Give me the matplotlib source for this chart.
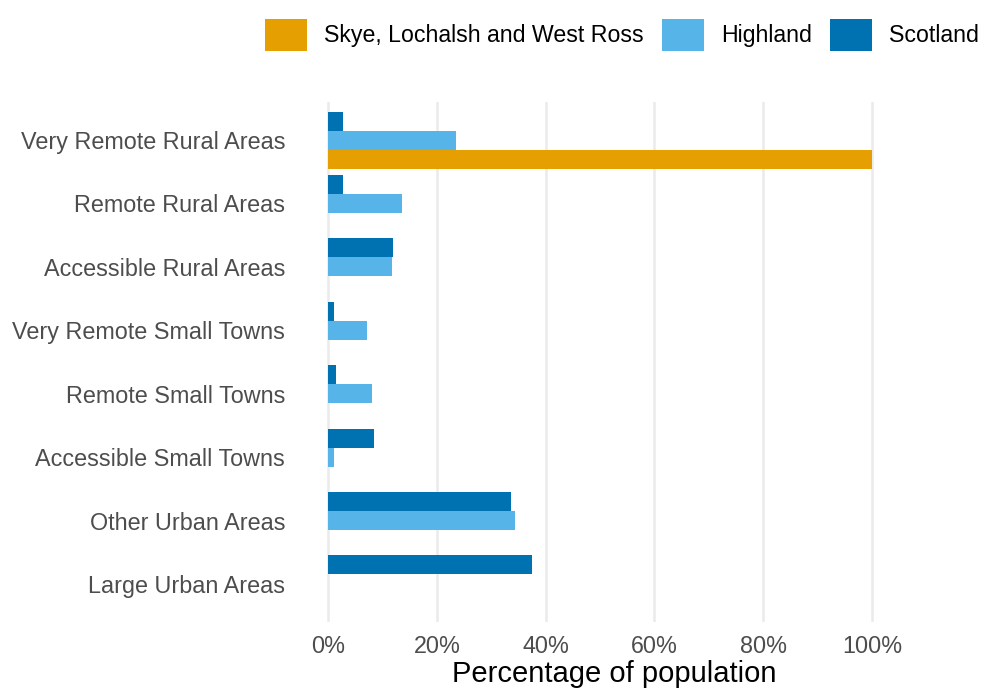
import numpy as np
import matplotlib
matplotlib.use('Agg')
import matplotlib.pyplot as plt
from matplotlib.ticker import FuncFormatter

categories = ['Very Remote Rural Areas', 'Remote Rural Areas', 'Accessible Rural Areas',
              'Very Remote Small Towns', 'Remote Small Towns', 'Accessible Small Towns',
              'Other Urban Areas', 'Large Urban Areas']
skye = [100.0, 0, 0, 0, 0, 0, 0, 0]
highland = [23.5, 13.6, 11.7, 7.2, 8.1, 1.0, 34.4, 0]
scotland = [2.7, 2.7, 12.0, 1.1, 1.4, 8.5, 33.6, 37.5]

series_names = ['Skye, Lochalsh and West Ross', 'Highland', 'Scotland']
colours = ['#E69F00', '#56B4E9', '#0072B2']

plt.rcParams['font.family'] = ['Liberation Sans', 'DejaVu Sans']

fig = plt.figure(figsize=(9.85, 6.88), dpi=100)
ax = fig.add_axes([0.3056, 0.0959, 0.6071, 0.7558])

# first category on top
y = np.arange(len(categories))[::-1]
h = 0.3
offsets = [-h, 0, h]  # Skye bottom, Highland middle, Scotland top
for vals, off, col, name in zip([skye, highland, scotland], offsets, colours, series_names):
    ax.barh(y + off, vals, height=h, color=col, label=name, zorder=3)

ax.set_xlim(-5, 105)
ax.set_ylim(-0.6, len(categories) - 0.4)
ax.set_xticks([0, 20, 40, 60, 80, 100])
ax.xaxis.set_major_formatter(FuncFormatter(lambda v, p: f'{v:.0f}%'))
ax.set_yticks(y)
ax.set_yticklabels(categories)
ax.tick_params(axis='both', length=0, labelsize=16.8, labelcolor='#4D4D4D')
ax.tick_params(axis='y', pad=11.5)
ax.tick_params(axis='x', pad=9.5)
ax.grid(axis='x', color='#EBEBEB', linewidth=1.8, zorder=0)
for s in ax.spines.values():
    s.set_visible(False)
ax.set_xlabel('Percentage of population', fontsize=21, labelpad=1.5)
ax.xaxis.label.set_x(0.523)

fig.legend(loc='center', bbox_to_anchor=(0.6315, 1 - 35 / 688), ncol=3, frameon=False,
           fontsize=16.7, handlelength=1.81, handleheight=1.81, handletextpad=0.75,
           columnspacing=0.78, borderpad=0, borderaxespad=0)

fig.savefig('out.png', dpi=100)
